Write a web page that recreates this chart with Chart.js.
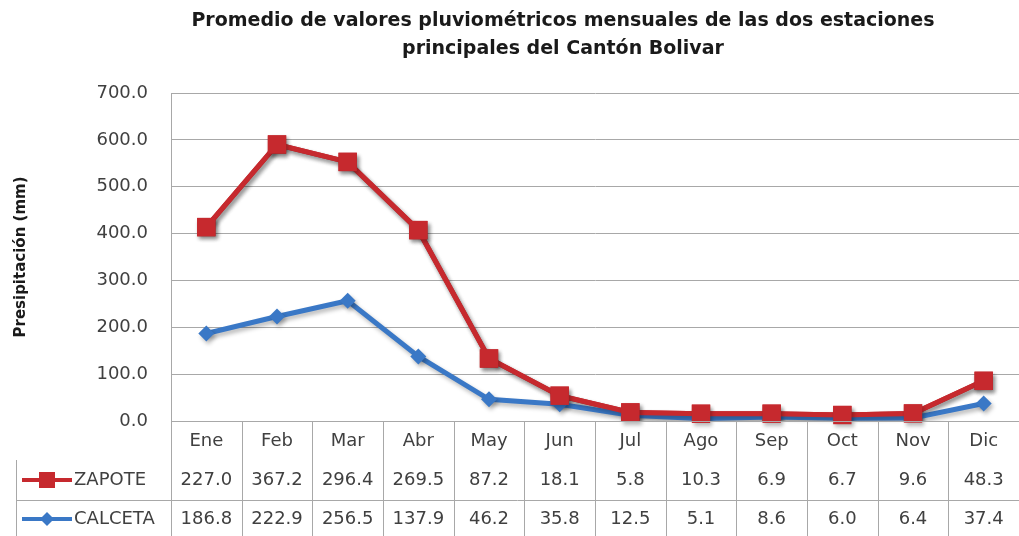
<!DOCTYPE html>
<html>
<head>
<meta charset="utf-8">
<script src="https://cdn.jsdelivr.net/npm/chart.js@4.4.1/dist/chart.umd.min.js"></script>
<style>
    html, body { margin: 0; padding: 0; background: #fff; overflow: hidden; }
    #wrap { width: 1019px; height: 536px; }
</style>
</head>
<body>
<div id="wrap"><canvas id="lluvia"></canvas></div>
<script>
// Monthly values (mm) for the two stations
const meses = ['Ene', 'Feb', 'Mar', 'Abr', 'May', 'Jun', 'Jul', 'Ago', 'Sep', 'Oct', 'Nov', 'Dic'];
const zapote = [227.0, 367.2, 296.4, 269.5, 87.2, 18.1, 5.8, 10.3, 6.9, 6.7, 9.6, 48.3];
const calceta = [186.8, 222.9, 256.5, 137.9, 46.2, 35.8, 12.5, 5.1, 8.6, 6.0, 6.4, 37.4];
const yTicks = [0, 100, 200, 300, 400, 500, 600, 700];

const tituloLineas = [
    'Promedio de valores pluviométricos mensuales de las dos estaciones',
    'principales del Cantón Bolivar'
];

const ROJO = '#c6292e';
const AZUL = '#3a78c6';
const GRIS = '#a8a8a8';
const FUENTE = '"DejaVu Sans", sans-serif';

// soft drop shadow like the Excel original
const sombraPlugin = {
    id: 'sombra',
    beforeDatasetDraw(chart) {
        const ctx = chart.ctx;
        ctx.save();
        ctx.shadowColor = 'rgba(0,0,0,0.28)';
        ctx.shadowBlur = 4;
        ctx.shadowOffsetX = 2;
        ctx.shadowOffsetY = 3;
    },
    afterDatasetDraw(chart) {
        chart.ctx.restore();
    },
    afterDatasetsDraw(chart) {
        // red series sits above the blue one in the reference
        const ctx = chart.ctx;
        const meta = chart.getDatasetMeta(1);
        ctx.save();
        ctx.shadowColor = 'rgba(0,0,0,0.28)';
        ctx.shadowBlur = 4;
        ctx.shadowOffsetX = 2;
        ctx.shadowOffsetY = 3;
        meta.controller.draw();
        ctx.restore();
    }
};

// title + data table under the plot
const tablaPlugin = {
    id: 'tabla',
    afterDraw(chart) {
        const ctx = chart.ctx;
        const area = chart.chartArea;
        const x = chart.scales.x;
        const colW = (area.right - area.left) / meses.length;
        const filaTop = area.bottom;
        const filas = [filaTop, filaTop + 39, filaTop + 79, chart.height];

        ctx.save();

        // title
        ctx.fillStyle = '#1a1a1a';
        ctx.font = 'bold 19px ' + FUENTE;
        ctx.textAlign = 'center';
        ctx.textBaseline = 'middle';
        ctx.fillText(tituloLineas[0], 563, 21);
        ctx.fillText(tituloLineas[1], 563, 49);

        // grid of the table
        ctx.strokeStyle = GRIS;
        ctx.lineWidth = 1;
        ctx.beginPath();
        for (let i = 0; i <= meses.length; i++) {
            const px = Math.round(area.left + i * colW) + 0.5;
            ctx.moveTo(px, filaTop);
            ctx.lineTo(px, chart.height);
        }
        ctx.moveTo(16.5, filas[1]);
        ctx.lineTo(16.5, chart.height);
        ctx.moveTo(16, filas[2] + 0.5);
        ctx.lineTo(area.right, filas[2] + 0.5);
        ctx.moveTo(area.left, filaTop + 0.5);
        ctx.lineTo(area.right, filaTop + 0.5);
        ctx.stroke();

        // month names and values
        ctx.font = '18px ' + FUENTE;
        ctx.fillStyle = '#404040';
        meses.forEach((m, i) => {
            const cx = x.getPixelForValue(i);
            ctx.fillText(m, cx, (filas[0] + filas[1]) / 2 + 1);
            ctx.fillText(zapote[i].toFixed(1), cx, (filas[1] + filas[2]) / 2);
            ctx.fillText(calceta[i].toFixed(1), cx, (filas[2] + filas[3]) / 2 + 1);
        });

        // legend keys
        const series = [
            { nombre: 'ZAPOTE', color: ROJO, y: (filas[1] + filas[2]) / 2, forma: 'rect' },
            { nombre: 'CALCETA', color: AZUL, y: (filas[2] + filas[3]) / 2 + 1, forma: 'rectRot' }
        ];
        ctx.font = '18px ' + FUENTE;
        series.forEach(s => {
            ctx.strokeStyle = s.color;
            ctx.lineWidth = 4;
            ctx.beginPath();
            ctx.moveTo(22, s.y);
            ctx.lineTo(72, s.y);
            ctx.stroke();
            ctx.fillStyle = s.color;
            ctx.beginPath();
            if (s.forma === 'rect') {
                ctx.rect(39, s.y - 8, 16, 16);
            } else {
                ctx.moveTo(47, s.y - 7);
                ctx.lineTo(54, s.y);
                ctx.lineTo(47, s.y + 7);
                ctx.lineTo(40, s.y);
                ctx.closePath();
            }
            ctx.fill();
            ctx.fillStyle = '#404040';
            ctx.textAlign = 'left';
            ctx.fillText(s.nombre, 74, s.y);
        });

        ctx.restore();
    }
};

new Chart(document.getElementById('lluvia'), {
    type: 'line',
    data: {
        labels: meses,
        datasets: [
            {
                label: 'CALCETA',
                data: calceta,
                borderColor: AZUL,
                backgroundColor: AZUL,
                borderWidth: 5,
                pointStyle: 'rectRot',
                pointRadius: 8,
                pointBorderWidth: 0,
                tension: 0,
                fill: false
            },
            {
                label: 'ZAPOTE',
                data: zapote,
                borderColor: ROJO,
                backgroundColor: ROJO,
                borderWidth: 5,
                pointStyle: 'rect',
                pointRadius: 13,
                pointBorderWidth: 0,
                tension: 0,
                fill: false
            }
        ]
    },
    options: {
        responsive: true,
        maintainAspectRatio: false,
        animation: false,
        layout: {
            autoPadding: false,
            padding: { top: 93, right: 0, bottom: 115, left: 0 }
        },
        plugins: {
            legend: { display: false },
            title: { display: false },
            tooltip: { enabled: false }
        },
        scales: {
            x: {
                offset: true,
                display: false
            },
            y: {
                stacked: true,
                min: 0,
                max: 700,
                afterBuildTicks(axis) {
                    axis.ticks = yTicks.map(v => ({ value: v }));
                },
                afterFit(axis) {
                    axis.width = 171;
                },
                grid: {
                    color: GRIS,
                    lineWidth: 1,
                    drawTicks: false
                },
                border: { color: GRIS, width: 1 },
                ticks: {
                    padding: 23,
                    color: '#404040',
                    font: { family: FUENTE, size: 18 },
                    callback: v => v.toFixed(1)
                },
                title: {
                    display: true,
                    text: 'Presipitación (mm)',
                    color: '#1a1a1a',
                    font: { family: FUENTE, size: 15, weight: 'bold' },
                    padding: { top: 12, bottom: 0 }
                }
            }
        }
    },
    plugins: [sombraPlugin, tablaPlugin]
});
</script>
</body>
</html>
